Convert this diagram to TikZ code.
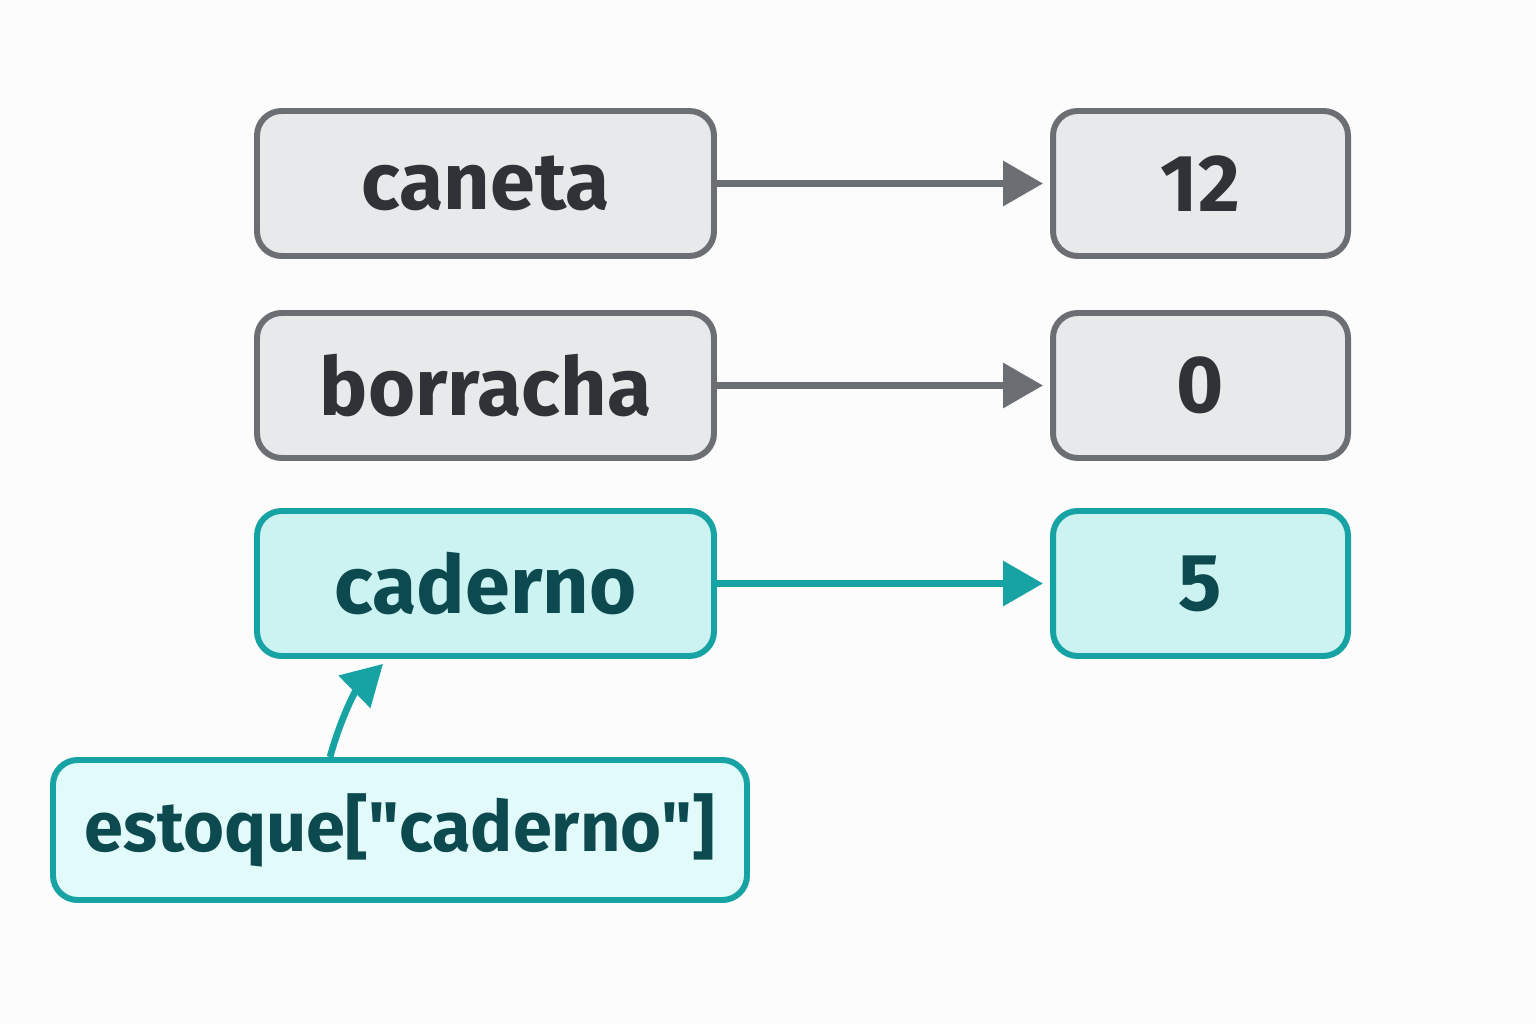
\documentclass[tikz,border=0pt]{standalone}
\usepackage{fontspec}
\setmainfont{Fira Sans}
\usetikzlibrary{arrows.meta}
\definecolor{keyGray}{HTML}{E8E9EB}
\definecolor{lineGray}{HTML}{6B6E73}
\definecolor{textGray}{HTML}{2F3337}
\definecolor{teal}{HTML}{17A3A3}
\definecolor{tealFill}{HTML}{CDF2F2}
\definecolor{tealText}{HTML}{0D4A4F}
\definecolor{tealLight}{HTML}{E3FAFA}

\begin{document}
\begin{tikzpicture}[
    box/.style={draw=lineGray, fill=keyGray, line width=1.7pt, rounded corners=7pt,
        minimum height=1.45cm, text=textGray, font=\fontsize{23}{27}\selectfont\bfseries},
    hit/.style={box, draw=teal, fill=tealFill, text=tealText},
    link/.style={line width=1.9pt, shorten >=2pt, -{Triangle[length=0.4cm, width=0.44cm]}}
]
            \useasboundingbox[fill=white!98!gray] (0,0) rectangle (15.36,10.24);

            % keys
            \node[box, minimum width=4.57cm] (caneta) at (4.855,8.405) {caneta};
            \node[box, minimum width=4.57cm] (borracha) at (4.855,6.385) {borracha};
            \node[hit, minimum width=4.57cm] (caderno) at (4.855,4.405) {caderno};

            % values
            \node[box, minimum width=2.95cm] (v12) at (12.005,8.405) {12};
            \node[box, minimum width=2.95cm] (v0) at (12.005,6.385) {0};
            \node[hit, minimum width=2.95cm] (v5) at (12.005,4.405) {5};

            % lookup
            \node[hit, fill=tealLight, minimum width=6.94cm, minimum height=1.4cm,
                font=\fontsize{20}{24}\selectfont\bfseries] (lookup) at (4.0,1.94) {estoque[\textquotedbl caderno\textquotedbl]};

            \draw[link, lineGray] (caneta) -- (v12);
            \draw[link, lineGray] (borracha) -- (v0);
            \draw[link, teal] (caderno) -- (v5);
            \draw[link, teal] (lookup.north -| 3.3,0) to[bend left=15] (caderno.south -| 3.88,0);

\end{tikzpicture}
\end{document}
